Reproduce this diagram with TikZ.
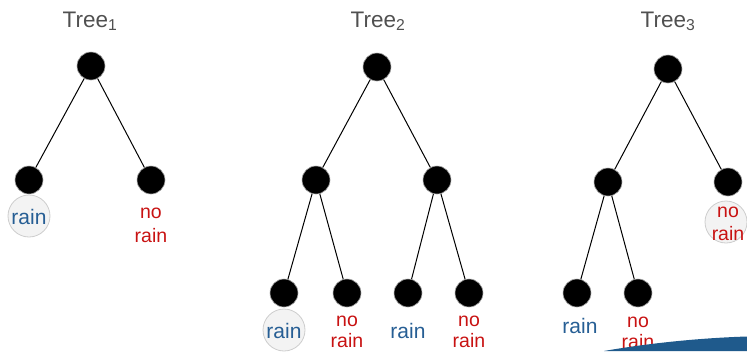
\documentclass[tikz,border=0pt]{standalone}
\usepackage{fontspec}
\setmainfont{Liberation Sans}
\definecolor{titlegray}{RGB}{80,80,80}
\definecolor{rainblue}{RGB}{38,94,148}
\definecolor{norainred}{RGB}{200,18,18}
\definecolor{swooshblue}{RGB}{31,90,140}
\definecolor{circfill}{RGB}{243,243,243}
\definecolor{circdraw}{RGB}{205,205,205}
\begin{document}
\begin{tikzpicture}[x=1pt,y=-1pt,
  tnode/.style={circle,fill=black,draw=black!35,line width=0.6pt,minimum size=28pt,inner sep=0pt},
  edge/.style={draw=black,line width=1pt},
  labcirc/.style={circle,fill=circfill,draw=circdraw,line width=0.8pt,minimum size=42pt,inner sep=0pt},
  title/.style={font=\fontsize{22.5}{26}\selectfont,text=titlegray,anchor=base,inner sep=0pt},
  bluetxt/.style={font=\fontsize{21}{24}\selectfont,text=rainblue,anchor=base,inner sep=0pt},
  redtxt/.style={font=\fontsize{19.5}{23}\selectfont,text=norainred,anchor=base,inner sep=0pt}]
\useasboundingbox (0,0) rectangle (747,351);

% Tree 1
\node[title] (t1) at (90,27) {Tree\textsubscript{1}};
\node[tnode] (a0) at (91,66) {};
\node[tnode] (a1) at (29,180) {};
\node[tnode] (a2) at (151,180) {};
\draw[edge] (a0) -- (a1);
\draw[edge] (a0) -- (a2);
\node[labcirc] (ac1) at (29,216) {};
\node[bluetxt] (ar1) at (29,224) {rain};
\node[redtxt] (an1) at (151,218) {no};
\node[redtxt] (an2) at (151,242) {rain};

% Tree 2
\node[title] (t2) at (378,27) {Tree\textsubscript{2}};
\node[tnode] (b0) at (377,67) {};
\node[tnode] (b1) at (316,180) {};
\node[tnode] (b2) at (437,180) {};
\node[tnode] (b3) at (284,293) {};
\node[tnode] (b4) at (347,293) {};
\node[tnode] (b5) at (408,293) {};
\node[tnode] (b6) at (469,293) {};
\draw[edge] (b0) -- (b1);
\draw[edge] (b0) -- (b2);
\draw[edge] (b1) -- (b3);
\draw[edge] (b1) -- (b4);
\draw[edge] (b2) -- (b5);
\draw[edge] (b2) -- (b6);
\node[labcirc] (bc1) at (284,330) {};
\node[bluetxt] (br1) at (284,338) {rain};
\node[redtxt] (bn1) at (347,326) {no};
\node[redtxt] (bn2) at (347,347.5) {rain};
\node[bluetxt] (br2) at (408,338) {rain};
\node[redtxt] (bn3) at (469,326) {no};
\node[redtxt] (bn4) at (469,347.5) {rain};

% Tree 3
\node[title] (t3) at (668,27) {Tree\textsubscript{3}};
\node[tnode] (c0) at (668,69) {};
\node[tnode] (c1) at (608,182) {};
\node[tnode] (c2) at (728,182) {};
\node[tnode] (c3) at (577,293) {};
\node[tnode] (c4) at (638,293) {};
\draw[edge] (c0) -- (c1);
\draw[edge] (c0) -- (c2);
\draw[edge] (c1) -- (c3);
\draw[edge] (c1) -- (c4);
\node[labcirc] (cc1) at (726,222) {};
\node[redtxt] (cn1) at (728,217) {no};
\node[redtxt] (cn2) at (728,240) {rain};
\node[bluetxt] (cr1) at (580,333) {rain};
\node[redtxt] (cn3) at (638,327) {no};
\node[redtxt] (cn4) at (638,348) {rain};

% decorative swoosh
\fill[swooshblue] (604,351) .. controls (650,343) and (700,338) .. (747,336.5) -- (747,351) -- cycle;
\end{tikzpicture}
\end{document}
